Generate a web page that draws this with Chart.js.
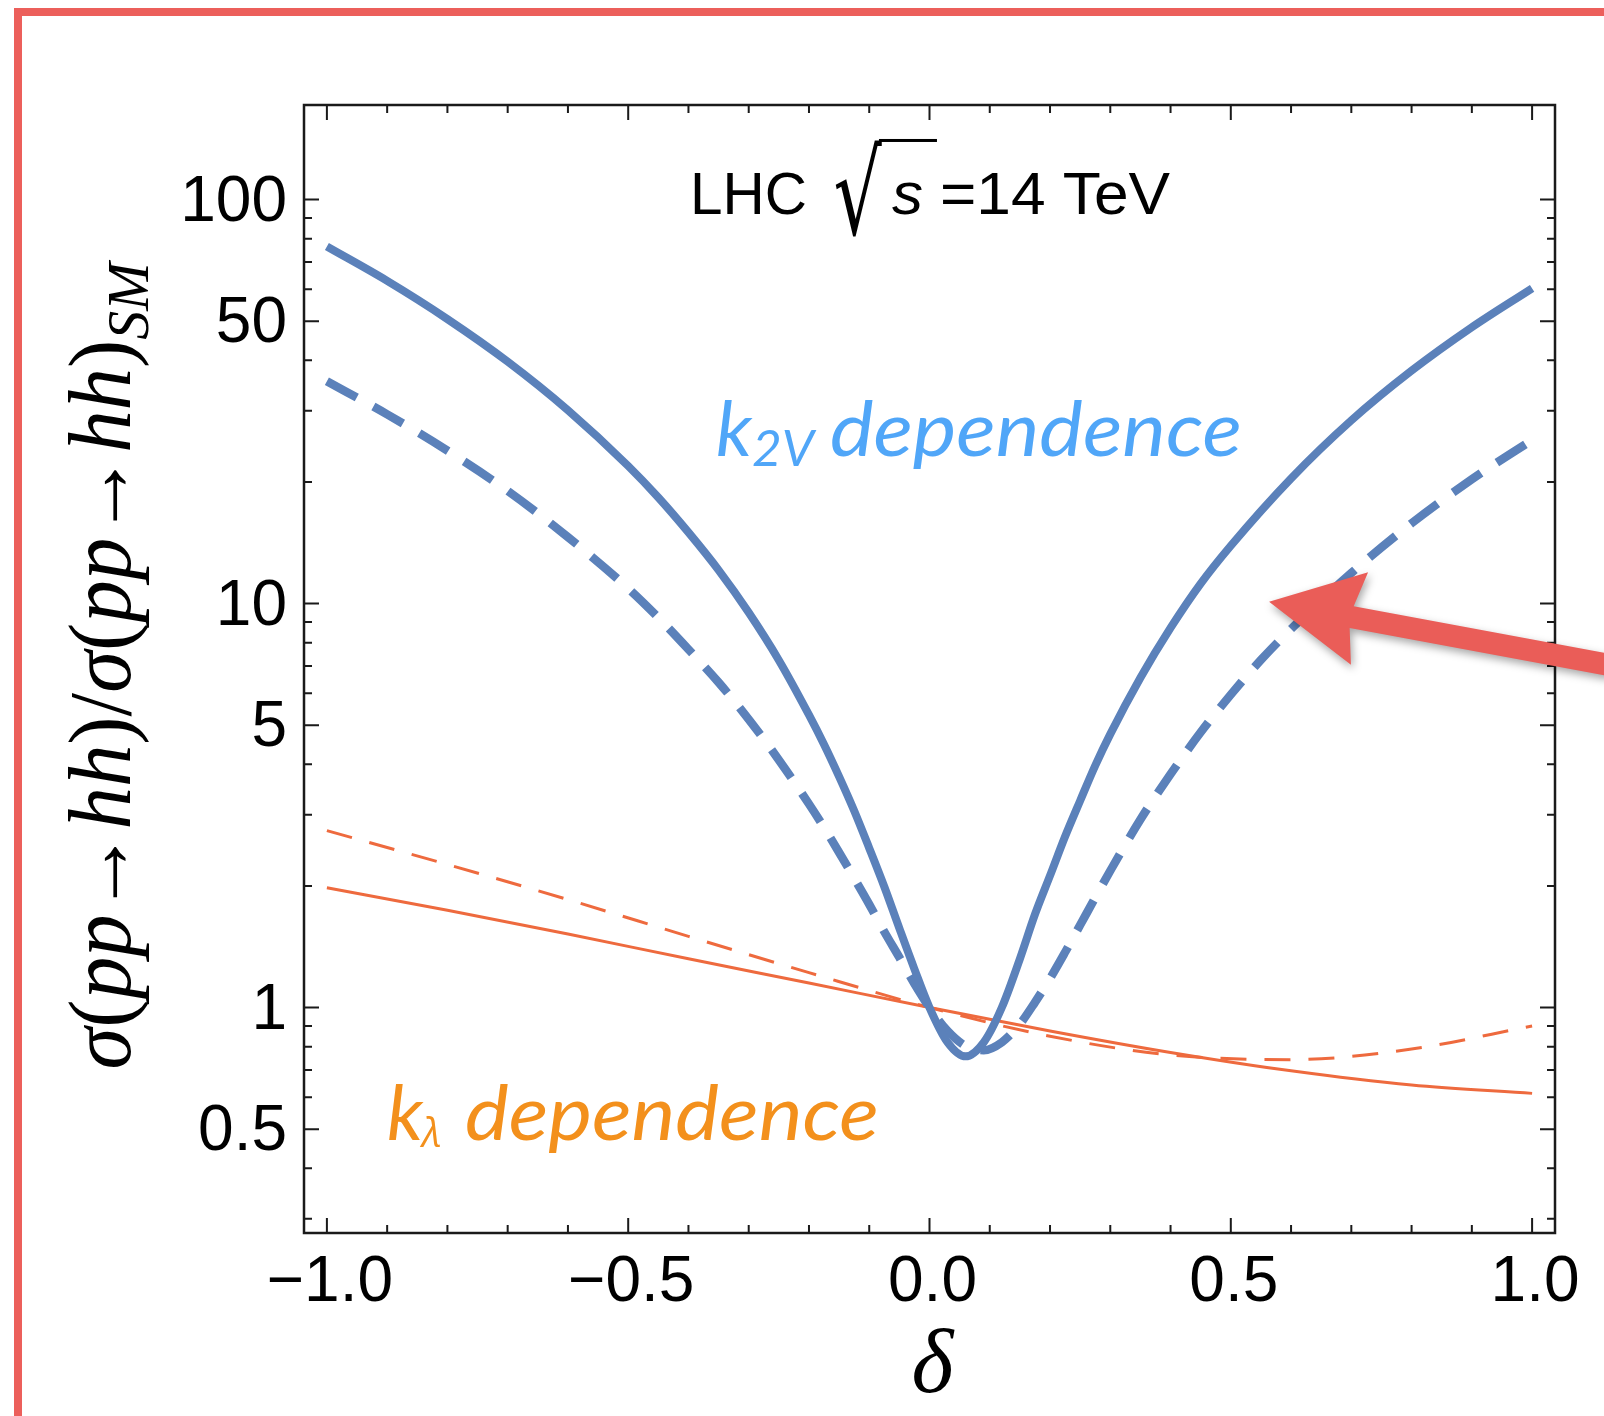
<!DOCTYPE html>
<html>
<head>
<meta charset="utf-8">
<title>pp → hh ratio vs delta</title>
<script src="https://cdn.jsdelivr.net/npm/chart.js@4.4.1/dist/chart.umd.min.js"></script>
<style>
    html, body { margin: 0; padding: 0; background: #fff; }
    body { width: 1604px; height: 1416px; overflow: hidden; position: relative; }
    #wrap { position: absolute; left: 0; top: 0; width: 1604px; height: 1416px; }
    /* red box around the figure, cut by the page on the right and bottom */
    #frame {
        position: absolute; left: 14px; top: 8px; width: 1700px; height: 1500px;
        border-left: 8px solid #EC5F5B; border-top: 8px solid #EC5F5B;
        box-sizing: border-box; pointer-events: none;
    }
</style>
</head>
<body>
<div id="wrap"><canvas id="chart" width="1604" height="1416"></canvas></div>
<div id="frame"></div>
<script>
// k2V dependence, solid
const k2vSolidDelta = [-1.0, -0.9, -0.8, -0.7, -0.6, -0.5, -0.45, -0.4, -0.35, -0.3, -0.25, -0.2, -0.175, -0.15, -0.125, -0.1, -0.075, -0.05, -0.025, 0.0, 0.03, 0.06, 0.09, 0.12, 0.15, 0.175, 0.2, 0.225, 0.25, 0.275, 0.3, 0.35, 0.4, 0.45, 0.5, 0.6, 0.7, 0.8, 0.9, 1.0];
const k2vSolidRatio = [76.5, 62.9, 50.6, 39.7, 30.1, 21.9, 18.3, 15.0, 12.1, 9.5, 7.24, 5.3, 4.48, 3.73, 3.07, 2.48, 1.99, 1.57, 1.245, 1.0, 0.82, 0.757, 0.82, 1.0, 1.32, 1.7, 2.12, 2.65, 3.25, 3.97, 4.75, 6.55, 8.7, 11.2, 13.9, 20.4, 28.4, 37.7, 48.3, 60.3];

// k2V dependence, dashed
const k2vDashedDelta = [-1.0, -0.9, -0.8, -0.7, -0.6, -0.5, -0.45, -0.4, -0.35, -0.3, -0.25, -0.2, -0.175, -0.15, -0.125, -0.1, -0.075, -0.05, -0.025, 0.0, 0.03, 0.06, 0.09, 0.12, 0.15, 0.175, 0.2, 0.225, 0.25, 0.275, 0.3, 0.35, 0.4, 0.45, 0.5, 0.55, 0.6, 0.7, 0.8, 0.9, 1.0];
const k2vDashedRatio = [35.5, 29.4, 23.9, 19.0, 14.6, 10.9, 9.23, 7.7, 6.38, 5.17, 4.10, 3.19, 2.79, 2.42, 2.09, 1.80, 1.54, 1.33, 1.145, 1.0, 0.875, 0.803, 0.784, 0.82, 0.91, 1.03, 1.18, 1.37, 1.6, 1.87, 2.18, 2.92, 3.78, 4.8, 5.95, 7.25, 8.65, 11.9, 15.8, 20.3, 25.4];

// k_lambda dependence, solid
const klSolidDelta = [-1.0, -0.8, -0.6, -0.4, -0.2, 0.0, 0.2, 0.4, 0.6, 0.8, 1.0];
const klSolidRatio = [1.98, 1.74, 1.52, 1.32, 1.15, 1.0, 0.875, 0.774, 0.697, 0.643, 0.613];

// k_lambda dependence, dashed
const klDashedDelta = [-1.0, -0.8, -0.6, -0.4, -0.2, 0.0, 0.2, 0.4, 0.6, 0.8, 1.0];
const klDashedRatio = [2.74, 2.26, 1.85, 1.50, 1.22, 1.0, 0.849, 0.763, 0.743, 0.789, 0.90];

// ticks
const xMajorTicks = [-1.0, -0.5, 0.0, 0.5, 1.0];
const xTickLabels = ['\u22121.0', '\u22120.5', '0.0', '0.5', '1.0'];
const xMinorTicks = [-0.9, -0.8, -0.7, -0.6, -0.4, -0.3, -0.2, -0.1, 0.1, 0.2, 0.3, 0.4, 0.6, 0.7, 0.8, 0.9];
const yMajorTicks = [0.5, 1, 5, 10, 50, 100];
const yTickLabels = ['0.5', '1', '5', '10', '50', '100'];
const yMinorTicks = [0.3, 0.4, 0.6, 0.7, 0.8, 0.9, 2, 3, 4, 6, 7, 8, 9, 20, 30, 40, 60, 70, 80, 90];

const BLUE = '#5B81BA';
const ORANGE_LINE = '#EE6A3E';

const toPoints = (xs, ys) => xs.map((x, i) => ({ x: x, y: ys[i] }));

// frame, inward ticks on all four sides, tick labels and axis titles
const frameAxes = {
    id: 'frameAxes',
    afterDatasetsDraw(chart) {
        const { ctx, chartArea: a, scales: { x, y } } = chart;
        const majLen = 15, minLen = 8;
        ctx.save();
        ctx.strokeStyle = '#1a1a1a';
        ctx.lineWidth = 2;
        ctx.beginPath();
        const xTick = (v, len) => {
            const px = x.getPixelForValue(v);
            ctx.moveTo(px, a.bottom); ctx.lineTo(px, a.bottom - len);
            ctx.moveTo(px, a.top); ctx.lineTo(px, a.top + len);
        };
        const yTick = (v, len) => {
            const py = y.getPixelForValue(v);
            ctx.moveTo(a.left, py); ctx.lineTo(a.left + len, py);
            ctx.moveTo(a.right, py); ctx.lineTo(a.right - len, py);
        };
        xMajorTicks.forEach(v => xTick(v, majLen));
        xMinorTicks.forEach(v => xTick(v, minLen));
        yMajorTicks.forEach(v => yTick(v, majLen));
        yMinorTicks.forEach(v => yTick(v, minLen));
        ctx.stroke();

        ctx.lineWidth = 2.5;
        ctx.strokeRect(a.left, a.top, a.right - a.left, a.bottom - a.top);

        // tick labels
        ctx.fillStyle = '#000';
        ctx.font = '64px "Liberation Sans", Arial, sans-serif';
        ctx.textAlign = 'center';
        ctx.textBaseline = 'alphabetic';
        xMajorTicks.forEach((v, i) => {
            ctx.fillText(xTickLabels[i], x.getPixelForValue(v) + 3, a.bottom + 68);
        });
        ctx.textAlign = 'right';
        yMajorTicks.forEach((v, i) => {
            ctx.fillText(yTickLabels[i], a.left - 17, y.getPixelForValue(v) + 21);
        });

        // x title
        ctx.textAlign = 'center';
        ctx.font = 'italic 90px "Liberation Serif", "Times New Roman", serif';
        ctx.fillText('\u03B4', x.getPixelForValue(0) + 3, a.bottom + 159);

        // y title, rotated: σ(pp→hh)/σ(pp→hh)_SM, squeezed to its length
        const size = 88;
        const ital = `italic ${size}px "Liberation Serif", serif`;
        const rom = `${size}px "Liberation Serif", serif`;
        const sub = `italic ${Math.round(size * 0.68)}px "Liberation Serif", serif`;
        const half = [
            { t: '\u03C3', f: ital }, { t: '(', f: rom }, { t: 'pp', f: ital },
            { t: '\u2192', f: rom }, { t: 'hh', f: ital }, { t: ')', f: rom }
        ];
        const segs = [...half, { t: '/', f: rom }, ...half, { t: 'SM', f: sub, sub: true }];
        let total = 0;
        segs.forEach(s => { ctx.font = s.f; s.w = ctx.measureText(s.t).width; total += s.w; });
        const target = 807;
        ctx.save();
        ctx.translate(a.left - 174, (a.top + a.bottom) / 2 - 3);
        ctx.rotate(-Math.PI / 2);
        ctx.scale(target / total, 1);
        ctx.textAlign = 'left';
        let cx = -total / 2;
        segs.forEach(s => {
            ctx.font = s.f;
            ctx.fillText(s.t, cx, s.sub ? 18 : 0);
            cx += s.w;
        });
        ctx.restore();
        ctx.restore();
    }
};

// text squeezed or stretched to a given width
function fitText(ctx, text, px, py, font, width) {
    ctx.font = font;
    const w = ctx.measureText(text).width;
    ctx.save();
    ctx.translate(px, py);
    ctx.scale(width / w, 1);
    ctx.textAlign = 'left';
    ctx.fillText(text, 0, 0);
    ctx.restore();
}

// labels inside the plot and the red pointer arrow
const annotations = {
    id: 'annotations',
    afterDraw(chart) {
        const { ctx, scales: { x, y } } = chart;
        ctx.save();
        ctx.textBaseline = 'alphabetic';

        // LHC √s =14 TeV
        const lx = x.getPixelForValue(-0.3975), ly = y.getPixelForValue(92.1);
        ctx.fillStyle = '#000';
        fitText(ctx, 'LHC', lx, ly, '60px "Liberation Sans", Arial, sans-serif', 117);
        // radical sign fitted into its box, then the bar over s
        ctx.font = '100px "DejaVu Sans", sans-serif';
        const m = ctx.measureText('\u221A');
        const gw = m.actualBoundingBoxLeft + m.actualBoundingBoxRight;
        const gh = m.actualBoundingBoxAscent + m.actualBoundingBoxDescent;
        const boxL = lx + 145, boxR = lx + 192, boxT = ly - 75, boxB = ly + 23;
        ctx.save();
        ctx.translate(boxL, boxT);
        ctx.scale((boxR - boxL) / gw, (boxB - boxT) / gh);
        ctx.fillText('\u221A', m.actualBoundingBoxLeft, m.actualBoundingBoxAscent);
        ctx.restore();
        ctx.fillRect(boxR - 3, boxT, lx + 247 - boxR + 3, 3);
        fitText(ctx, 's', lx + 202, ly, 'italic 60px "Liberation Sans", Arial, sans-serif', 31);
        fitText(ctx, '=14 TeV', lx + 250, ly, '60px "Liberation Sans", Arial, sans-serif', 230);

        // k2V dependence
        const bx = x.getPixelForValue(-0.3544), by = y.getPixelForValue(23.2);
        ctx.fillStyle = '#50A6F8';
        ctx.font = 'italic 76px Lato, "Open Sans", sans-serif';
        ctx.textAlign = 'left';
        ctx.fillText('k', bx, by);
        fitText(ctx, '2V', bx + 36, by + 10, 'italic 50px Lato, "Open Sans", sans-serif', 62);
        fitText(ctx, 'dependence', bx + 114, by, 'italic 76px Lato, "Open Sans", sans-serif', 412);

        // k_lambda dependence
        const ox = x.getPixelForValue(-0.9004), oy = y.getPixelForValue(0.47);
        ctx.fillStyle = '#F3901C';
        ctx.font = 'italic 76px Lato, "Open Sans", sans-serif';
        ctx.fillText('k', ox, oy);
        ctx.font = 'italic 40px "Open Sans", "DejaVu Sans", sans-serif';
        ctx.fillText('\u03BB', ox + 35, oy + 7);
        fitText(ctx, 'dependence', ox + 78, oy, 'italic 76px Lato, "Open Sans", sans-serif', 414);

        // red arrow pointing at the k2V curves
        const tx = x.getPixelForValue(0.5635), ty = y.getPixelForValue(10.1);
        const sx = x.getPixelForValue(1.1295), sy = y.getPixelForValue(7.04);
        const ang = Math.atan2(sy - ty, sx - tx);
        const headLen = 92, headHalf = 47, shaftHalf = 11;
        const len = Math.hypot(sx - tx, sy - ty);
        ctx.save();
        ctx.translate(tx, ty);
        ctx.rotate(ang);
        ctx.shadowColor = 'rgba(0,0,0,0.35)';
        ctx.shadowBlur = 9;
        ctx.shadowOffsetX = 2;
        ctx.shadowOffsetY = 4;
        ctx.fillStyle = '#EA5D58';
        ctx.beginPath();
        ctx.moveTo(0, 0);
        ctx.lineTo(headLen, -headHalf);
        ctx.lineTo(headLen - 8, -shaftHalf);
        ctx.lineTo(len, -shaftHalf);
        ctx.lineTo(len, shaftHalf);
        ctx.lineTo(headLen - 8, shaftHalf);
        ctx.lineTo(headLen, headHalf);
        ctx.closePath();
        ctx.fill();
        ctx.restore();

        ctx.restore();
    }
};

const ctx = document.getElementById('chart').getContext('2d');
new Chart(ctx, {
    type: 'line',
    data: {
        datasets: [
            {
                label: 'k2V solid',
                data: toPoints(k2vSolidDelta, k2vSolidRatio),
                borderColor: BLUE, borderWidth: 8
            },
            {
                label: 'k2V dashed',
                data: toPoints(k2vDashedDelta, k2vDashedRatio),
                borderColor: BLUE, borderWidth: 8.5, borderDash: [34, 19]
            },
            {
                label: 'klambda solid',
                data: toPoints(klSolidDelta, klSolidRatio),
                borderColor: ORANGE_LINE, borderWidth: 3
            },
            {
                label: 'klambda dashed',
                data: toPoints(klDashedDelta, klDashedRatio),
                borderColor: ORANGE_LINE, borderWidth: 3, borderDash: [26, 18]
            }
        ]
    },
    options: {
        responsive: false,
        animation: false,
        devicePixelRatio: 1,
        layout: { padding: { left: 304, right: 49, top: 105, bottom: 183 } },
        elements: {
            point: { radius: 0 },
            line: { cubicInterpolationMode: 'monotone', fill: false }
        },
        plugins: { legend: { display: false }, tooltip: { enabled: false } },
        scales: {
            x: { type: 'linear', min: -1.038, max: 1.038, display: false },
            y: { type: 'logarithmic', min: 0.2766, max: 171.4, display: false }
        }
    },
    plugins: [frameAxes, annotations]
});
</script>
</body>
</html>
